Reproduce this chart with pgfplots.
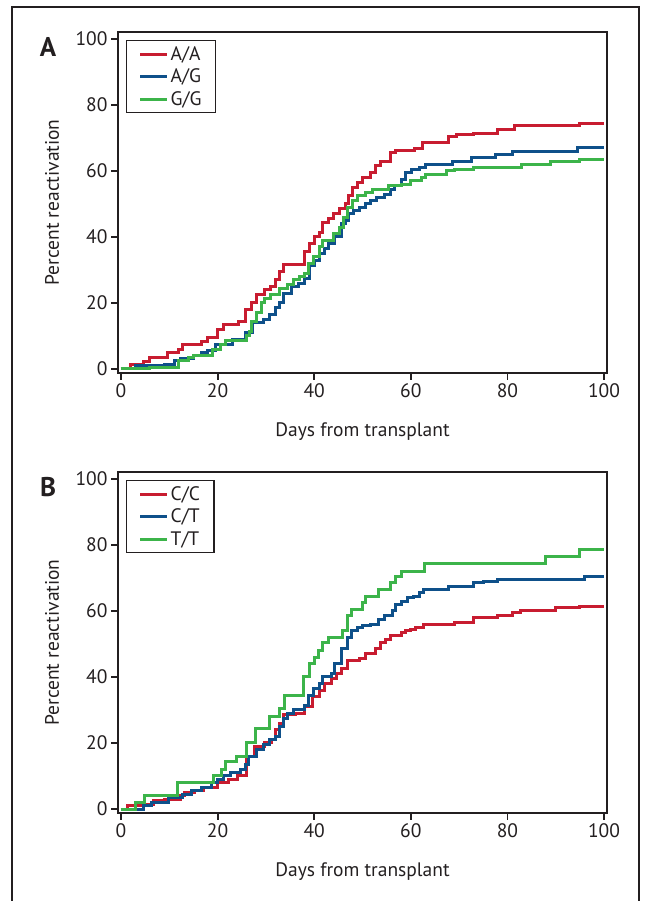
\documentclass[border=0pt]{standalone}
\usepackage{fontspec}
\setmainfont{PT Sans}
\usepackage{pgfplots}
\pgfplotsset{compat=1.18}
\definecolor{cred}{RGB}{200,28,48}
\definecolor{cblue}{RGB}{14,80,138}
\definecolor{cgreen}{RGB}{60,180,74}
\definecolor{cax}{RGB}{35,31,32}
\pgfplotsset{
  km/.style={
    anchor=south west, scale only axis, width=489bp, height=341bp,
    xmin=-0.62, xmax=100.62, ymin=-1.21, ymax=102.1,
    xtick={0,20,...,100}, ytick={0,20,...,100},
    axis line style={line width=2.3bp, cax},
    tick style={line width=1.8bp, cax},
    tick align=outside, major tick length=7bp, tick pos=left,
    /pgf/number format/assume math mode=true,
    ticklabel style={font=\fontsize{19.5bp}{22bp}\selectfont, text=cax},
    xlabel={Days from transplant}, ylabel={Percent reactivation},
    every axis x label/.style={at={(axis description cs:0.5,-0.173)}, anchor=center,
      font=\fontsize{19.5bp}{22bp}\selectfont, text=cax},
    every axis y label/.style={at={(axis description cs:-0.135,0.5)}, anchor=center, rotate=90,
      font=\fontsize{19.5bp}{22bp}\selectfont, text=cax},
    legend style={at={(axis description cs:0.0164,0.9765)}, anchor=north west,
      draw=cax, line width=1.4bp, inner xsep=12bp, inner ysep=4bp,
      font=\fontsize{19.5bp}{22bp}\selectfont, text=cax,
      row sep=3bp, cells={anchor=west}},
    legend image code/.code={\draw[#1, line width=3bp] (0bp,0bp) -- (27bp,0bp);},
    every axis plot/.append style={const plot mark left, no marks, line width=3bp},
  }
}
\begin{document}
\begin{tikzpicture}[x=1bp,y=1bp]
\path[use as bounding box] (0,0) rectangle (645,901);
\draw[line width=2bp, cax] (12,0) -- (12,894) -- (639,894) -- (639,0);

\begin{axis}[km, at={(118bp,528bp)}]
\addplot[cred] coordinates {
(0,0) (2,1.3) (4.7,2.3) (6,3.5) (9.6,5) (12,6) (12.8,7.4) (16.6,8.4) (18,9.4)
(20,12) (21.3,13.4) (24.3,14.4) (25.8,18) (27,20) (28,22.5) (29.8,24) (31,25)
(32,27) (32.8,29.6) (33.7,31.6) (38,35.5) (39,38) (40,40) (41,41.5) (41.8,44.5)
(43,45.5) (44,47) (45.2,48.5) (46.5,50) (47.2,52.5) (48,55) (49,56.5) (49.9,58)
(51.6,59.5) (52.6,61.5) (53.7,63) (55.8,65.5) (56.9,66.3) (60.8,66.8) (62.5,68.5)
(67.8,70.3) (69.5,70.9) (73,71.3) (78,72.6) (81.4,73.7) (95,74.4) (100,74.4)};
\addlegendentry{A/A}
\addplot[cblue] coordinates {
(0,0) (3,1) (9,1.5) (11,2.5) (12.4,3.3) (15,4) (16.6,5) (18,5.5) (19.6,7.5)
(23,9) (25.8,11) (27.3,14) (29.4,15) (30.7,16.5) (32,18.5) (32.8,20) (33.7,23)
(35.4,25) (36.7,26) (38,27.5) (39,31.5) (40,33) (41,35) (42.2,36.5) (43,38)
(44.3,40) (45.6,44) (46.5,45) (47.1,47) (48.2,48) (49.4,49) (50.7,50) (51.6,51)
(52.8,52) (54.6,53) (55.8,54.5) (56.7,55.5) (58,57.5) (58.8,59.5) (60.1,60.5)
(61.8,61) (63,62) (68.6,63) (72.5,64) (77.6,65) (81,66) (94.6,67) (100,67)};
\addlegendentry{A/G}
\addplot[cgreen] coordinates {
(0,0) (6,0.5) (12,2.5) (14,3.5) (15,4) (19,6) (20.5,7.5) (21.7,8.5) (26,10)
(26.6,11.5) (27,14.5) (28.1,17) (29,20) (29.8,21.5) (31,22.5) (32.8,24.5)
(34.5,25.5) (35.8,27) (37,28) (38,29) (38.8,32) (39.8,34) (41,37) (41.8,39)
(44,41) (45.2,43) (46,46) (46.9,49) (48,51) (49,52.5) (50.7,53.5) (52,54.5)
(55.4,55.5) (58,56) (60,57) (62.2,58) (63,59) (67.3,60) (69,60.5) (72.9,61)
(83,62) (89,63) (95,63.5) (100,63.5)};
\addlegendentry{G/G}
\end{axis}

\begin{axis}[km, at={(118bp,88bp)}]
\addplot[cred] coordinates {
(0,0) (1.3,1) (4.3,1.5) (6.8,2.5) (9,3) (12.4,4) (13.2,5) (15.3,5.5) (17,6.5)
(20,8) (22.2,9) (24.1,10) (26,16) (27.7,19) (29.8,20) (31.1,21) (32,24) (32.8,26)
(33.7,28.5) (36.2,29) (38,31) (39.6,34) (41,36) (42.2,38) (43.5,39.5) (44.6,41)
(45.6,42.5) (46.9,45) (49.4,45.5) (50.7,47) (52.6,48.5) (53.7,50.5) (54.7,51.5)
(55.8,52.5) (58,53.5) (58.8,54) (60,54.5) (61,55) (62.7,56) (69,56.5) (72.9,58)
(78,58.5) (81,59.5) (82.7,60) (90,61) (95,61.5) (100,61.5)};
\addlegendentry{C/C}
\addplot[cblue] coordinates {
(0,0) (4.7,1) (6.4,2) (9.8,3.5) (12.8,4.5) (14.5,5.5) (16.6,6.5) (18.8,8) (20,9)
(21.3,10) (22.6,11) (24.7,12) (25.8,13.5) (26.4,16) (28.1,18) (29.4,19.5)
(30.7,21) (32,22) (32.8,25) (33.7,27.5) (34.5,29) (35.8,30) (38,31.5) (38.8,34.5)
(39.8,36.5) (41,38) (41.8,40) (43.5,41) (44.3,44) (45.6,48.5) (46.9,52) (47.7,54)
(49,55) (49.9,55.5) (51.6,56) (53.3,57.5) (54.6,58.5) (56.3,60) (56.9,62) (58,63)
(59.3,64) (60.5,64.5) (61.8,65.5) (62.7,66.5) (67.8,67.5) (72.9,68.5) (75,69)
(78,69.5) (95.9,70.5) (100,70.5)};
\addlegendentry{C/T}
\addplot[cgreen] coordinates {
(0,0) (3,2) (4.9,4) (11.7,8) (19.2,10) (20.9,12) (21.7,14.5) (23.9,16) (26,20)
(27.9,24.5) (30.7,28) (32.8,30.5) (33.8,34.5) (37.8,40) (39,44) (40.1,46)
(40.9,48) (41.8,50.5) (42.9,52) (45.8,54) (46.9,58.5) (47.7,60.5) (49.9,62.5)
(50.7,64.5) (53.3,66.5) (55.8,68.5) (56.9,70.5) (58,72) (62.8,74.5) (87.8,76.5)
(95,78.5) (100,78.5)};
\addlegendentry{T/T}
\end{axis}

\node[font=\fontsize{27bp}{30bp}\selectfont\bfseries, text=cax] at (48,854) {A};
\node[font=\fontsize{27bp}{30bp}\selectfont\bfseries, text=cax] at (48,414) {B};
\end{tikzpicture}
\end{document}
